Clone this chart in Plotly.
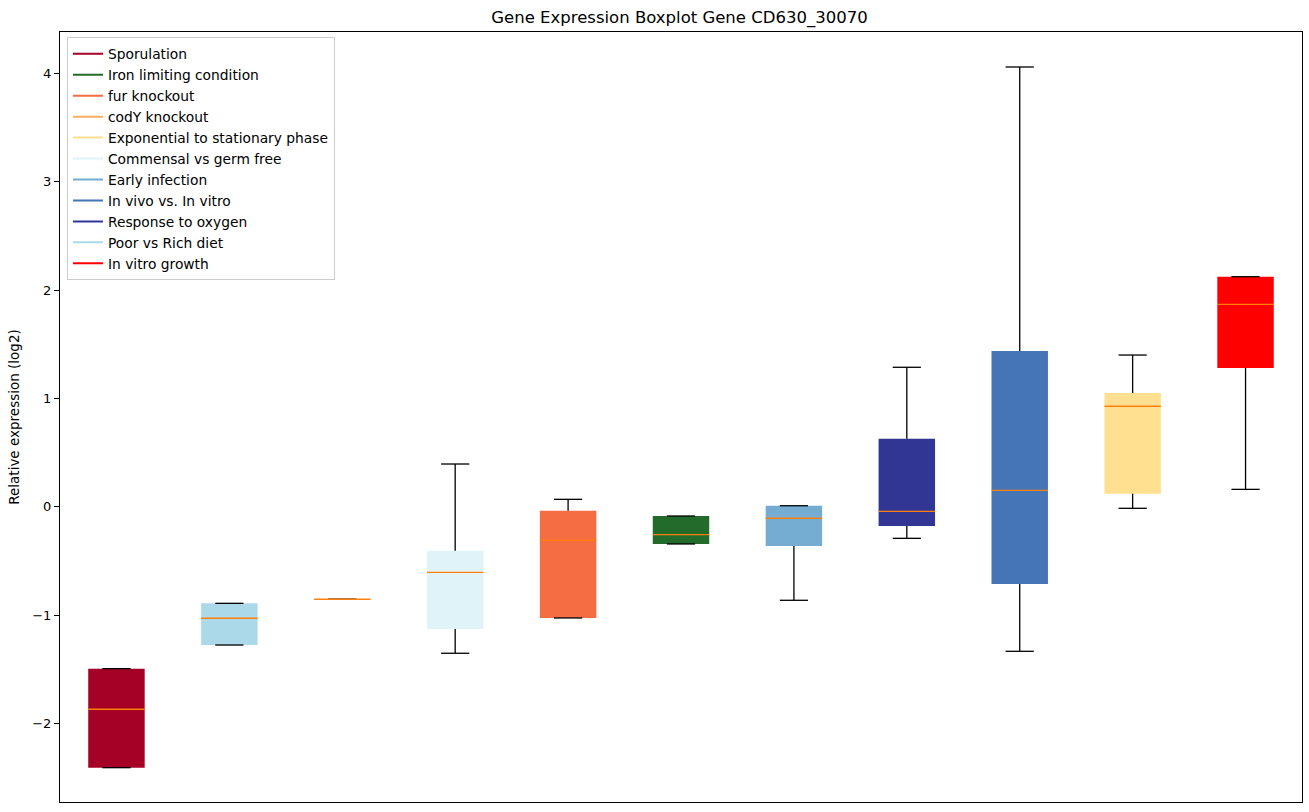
import plotly.graph_objects as go

# Box order (left to right)
names = ["Sporulation", "Poor vs Rich diet", "codY knockout", "Commensal vs germ free",
         "fur knockout", "Iron limiting condition", "Early infection", "Response to oxygen",
         "In vivo vs. In vitro", "Exponential to stationary phase", "In vitro growth"]
colors = ["#a50026", "#abd9e9", "#fdae61", "#e0f3f8", "#f46d43", "#226b2b",
          "#74add1", "#313695", "#4575b4", "#fee090", "#ff0000"]
lower = [-2.409, -1.277, -0.855, -1.353, -1.027, -0.344, -0.864, -0.292, -1.335, -0.015, 0.160]
q1 = [-2.409, -1.277, -0.855, -1.129, -1.027, -0.344, -0.363, -0.178, -0.714, 0.120, 1.280]
median = [-1.870, -1.030, -0.855, -0.606, -0.310, -0.258, -0.107, -0.043, 0.151, 0.927, 1.868]
q3 = [-1.495, -0.892, -0.855, -0.406, -0.037, -0.086, 0.009, 0.628, 1.437, 1.050, 2.123]
upper = [-1.495, -0.892, -0.855, 0.394, 0.068, -0.086, 0.009, 1.287, 4.059, 1.400, 2.123]

# Legend order
legend_names = ["Sporulation", "Iron limiting condition", "fur knockout", "codY knockout",
                "Exponential to stationary phase", "Commensal vs germ free", "Early infection",
                "In vivo vs. In vitro", "Response to oxygen", "Poor vs Rich diet", "In vitro growth"]

positions = list(range(1, len(names) + 1))
box_w = 0.5
cap_w = 0.25

fig = go.Figure()

# Boxes
fig.add_trace(go.Bar(
    x=positions, base=q1, y=[b - a for a, b in zip(q1, q3)], width=box_w,
    marker=dict(color=colors, line=dict(width=0)), showlegend=False, hoverinfo="skip"))

# Whiskers and caps
wx, wy = [], []
for p, lo, a, b, hi in zip(positions, lower, q1, q3, upper):
    wx += [p, p, None, p, p, None,
           p - cap_w / 2, p + cap_w / 2, None, p - cap_w / 2, p + cap_w / 2, None]
    wy += [a, lo, None, b, hi, None, lo, lo, None, hi, hi, None]
fig.add_trace(go.Scatter(x=wx, y=wy, mode="lines", line=dict(color="black", width=1.3),
                         showlegend=False, hoverinfo="skip"))

# Medians
mx, my = [], []
for p, m in zip(positions, median):
    mx += [p - box_w / 2, p + box_w / 2, None]
    my += [m, m, None]
fig.add_trace(go.Scatter(x=mx, y=my, mode="lines", line=dict(color="#ff7f0e", width=1.4),
                         showlegend=False, hoverinfo="skip"))

# Legend entries
for n in legend_names:
    c = colors[names.index(n)]
    fig.add_trace(go.Scatter(x=[None], y=[None], mode="lines", name=n,
                             line=dict(color=c, width=2)))

fig.update_layout(
    width=1309, height=812,
    margin=dict(l=60, r=7, t=32, b=10),
    paper_bgcolor="white", plot_bgcolor="white",
    font=dict(family="DejaVu Sans", size=13, color="black"),
    title=dict(text="Gene Expression Boxplot Gene CD630_30070", x=679.5 / 1309, xanchor="center",
               y=1 - 17 / 812, yanchor="middle", font=dict(size=16.5)),
    showlegend=True,
    legend=dict(x=0.0056, y=0.993, xanchor="left", yanchor="top",
                bgcolor="rgba(255,255,255,0.8)", bordercolor="#cccccc", borderwidth=1,
                font=dict(size=13.8), itemwidth=30),
    xaxis=dict(range=[0.5, 11.5], showticklabels=False, ticks="", showgrid=False,
               zeroline=False, showline=True, linecolor="black", linewidth=1, mirror=True),
    yaxis=dict(range=[-2.726, 4.382], tickvals=[-2, -1, 0, 1, 2, 3, 4], ticks="outside",
               ticklen=5, tickcolor="black", showgrid=False, zeroline=False, showline=True,
               linecolor="black", linewidth=1, mirror=True, automargin=False,
               tickfont=dict(size=13),
               title=dict(text="Relative expression (log2)", standoff=9, font=dict(size=13.5))),
    barmode="overlay",
)

fig.write_html("out.html", config={"displayModeBar": False},
               post_script="document.body.style.margin='0';")
